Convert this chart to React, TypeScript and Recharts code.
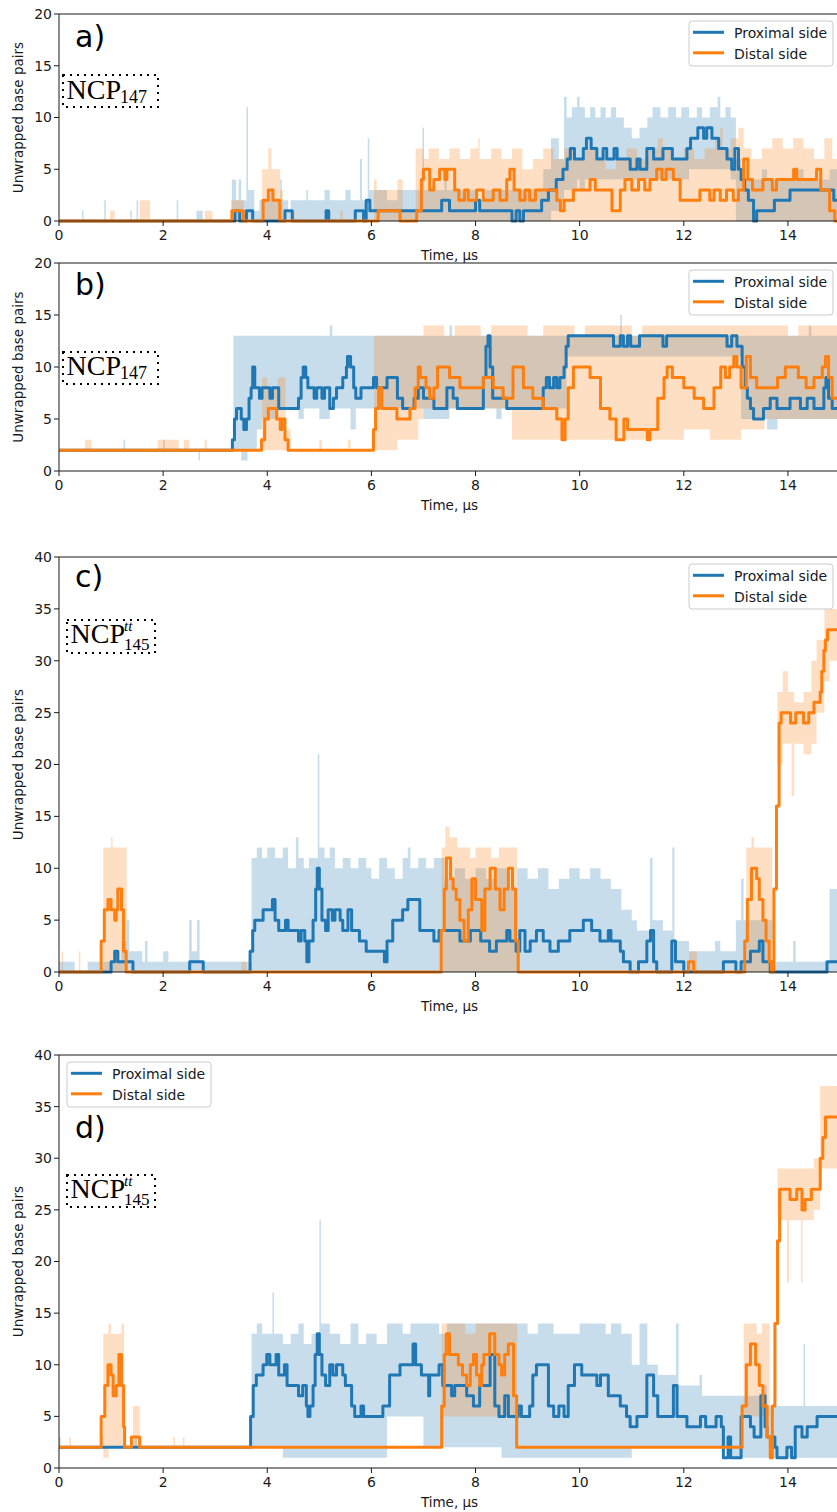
import React from 'react';
import { ComposedChart, Line, Area, XAxis, YAxis, ReferenceLine } from 'recharts';

type Pt = [number, number];
type Band = [number, number, number];

const BLUE = '#1f77b4';
const ORANGE = '#ff7f0e';
const INK = '#1a1a1a';

const xTicks = [0, 2, 4, 6, 8, 10, 12, 14];
const yTicks20 = [0, 5, 10, 15, 20];
const yTicks40 = [0, 5, 10, 15, 20, 25, 30, 35, 40];
const seriesNames = ['Proximal side', 'Distal side'];

// ---- panel a ----
const aProximal: Pt[] = [
  [0, 0], [3.38, 1], [3.47, 0], [3.6, 1], [3.72, 0], [4.34, 1], [4.48, 0], [5.13, 1], [5.18, 0],
  [5.69, 1], [5.85, 0], [5.9, 2], [5.97, 1], [7.35, 2], [7.5, 1], [8.0, 2], [8.08, 1], [8.7, 0],
  [8.78, 1], [8.85, 0], [8.92, 1], [9.27, 2], [9.4, 3], [9.55, 4], [9.68, 5], [9.76, 6], [9.82, 7],
  [9.9, 6], [10.07, 7], [10.13, 8], [10.22, 7], [10.33, 6], [10.45, 7], [10.52, 6], [10.66, 7],
  [10.72, 6], [10.97, 5], [11.1, 6], [11.16, 5], [11.29, 7], [11.42, 6], [11.6, 7], [11.78, 6],
  [12.06, 7], [12.13, 8], [12.27, 9], [12.38, 8], [12.44, 9], [12.54, 8], [12.67, 7], [12.83, 6],
  [12.92, 5], [12.98, 7], [13.05, 5], [13.1, 4], [13.17, 3], [13.24, 2], [13.34, 0], [13.4, 1],
  [13.74, 2], [14.04, 3], [14.88, 2],
];
const aDistal: Pt[] = [
  [0, 0], [3.32, 1], [3.54, 0], [3.92, 2], [4.02, 3], [4.11, 2], [4.24, 0], [6.13, 1], [6.55, 0],
  [6.87, 1], [6.96, 4], [7.0, 5], [7.12, 3], [7.2, 4], [7.31, 5], [7.41, 4], [7.45, 5], [7.6, 3],
  [7.68, 2], [7.79, 3], [7.86, 2], [8.02, 3], [8.15, 2], [8.34, 3], [8.47, 2], [8.6, 4], [8.66, 5],
  [8.74, 3], [8.85, 2], [8.95, 3], [9.04, 2], [9.15, 3], [9.56, 2], [9.63, 1], [9.7, 2], [9.88, 3],
  [10.2, 4], [10.3, 3], [10.62, 1], [10.78, 3], [10.87, 4], [11.0, 3], [11.13, 4], [11.25, 3],
  [11.35, 4], [11.48, 5], [11.58, 4], [11.66, 5], [11.8, 4], [11.93, 2], [12.31, 3], [12.5, 2],
  [12.58, 3], [12.7, 2], [12.82, 3], [12.95, 2], [13.05, 3], [13.15, 6], [13.23, 4], [13.32, 3],
  [13.52, 4], [13.7, 3], [13.78, 4], [14.11, 5], [14.17, 4], [14.55, 5], [14.63, 3], [14.8, 1],
  [14.9, 0],
];
const aProximalBand: Band[] = [
  [0, 0, 0], [0.44, 0, 1], [0.47, 0, 0], [0.87, 0, 2], [0.9, 0, 0], [1.37, 0, 1], [1.4, 0, 0],
  [1.49, 0, 2], [1.52, 0, 0], [2.26, 0, 2], [2.29, 0, 0], [2.64, 0, 1], [2.76, 0, 0], [3.32, 0, 4],
  [3.4, 0, 2], [3.45, 0, 4], [3.5, 0, 2], [3.6, 0, 11], [3.63, 0, 3], [3.75, 0, 1], [3.85, 0, 2],
  [4.05, 0, 3], [4.1, 0, 2], [4.25, 0, 4], [4.28, 0, 2], [4.4, 0, 1], [4.45, 0, 2], [4.75, 0, 3],
  [4.78, 0, 2], [5.1, 0, 3], [5.2, 0, 2], [5.5, 0, 3], [5.6, 0, 2], [5.78, 0, 6], [5.82, 0, 2],
  [5.93, 0, 8], [5.96, 0, 3], [6.3, 0, 2], [6.5, 0, 3], [6.98, 0, 9], [7.01, 0, 3], [7.4, 0, 4],
  [7.45, 0, 3], [8.0, 0, 2], [8.2, 0, 3], [9.3, 0, 5], [9.45, 1, 8], [9.6, 2, 6], [9.7, 3, 12],
  [9.75, 3, 10], [9.85, 3, 11], [9.95, 4, 12], [10.0, 3, 11], [10.1, 4, 10], [10.2, 4, 11],
  [10.3, 4, 10], [10.4, 4, 11], [10.5, 4, 10], [10.6, 4, 11], [10.7, 4, 10], [10.85, 4, 9],
  [11.0, 4, 8], [11.15, 4, 9], [11.3, 4, 10], [11.4, 4, 11], [11.55, 4, 10], [11.7, 4, 11],
  [11.85, 4, 10], [11.95, 4, 11], [12.1, 5, 10], [12.25, 5, 11], [12.35, 5, 10], [12.5, 5, 11],
  [12.65, 5, 12], [12.7, 5, 10], [12.8, 5, 11], [12.9, 4, 10], [13.0, 0, 6], [13.1, 0, 4],
  [13.5, 0, 5], [13.6, 0, 4], [14.2, 0, 5], [14.3, 0, 4], [14.8, 0, 5],
];
const aDistalBand: Band[] = [
  [0, 0, 0], [0.98, 0, 1], [1.07, 0, 0], [1.55, 0, 2], [1.75, 0, 0], [2.8, 0, 1], [2.95, 0, 0],
  [3.3, 0, 2], [3.55, 0, 0], [3.9, 0, 5], [4.02, 0, 7], [4.08, 0, 5], [4.25, 0, 3], [4.3, 0, 0],
  [4.5, 0, 1], [4.53, 0, 0], [5.4, 0, 1], [5.45, 0, 0], [6.05, 0, 4], [6.1, 0, 3], [6.5, 0, 4],
  [6.6, 0, 1], [6.85, 0, 7], [7.0, 0, 6], [7.1, 0, 7], [7.3, 0, 6], [7.5, 0, 7], [7.7, 0, 6],
  [7.9, 0, 7], [8.05, 0, 8], [8.08, 0, 6], [8.3, 0, 7], [8.5, 0, 6], [8.7, 0, 7], [8.9, 0, 5],
  [9.1, 0, 6], [9.3, 0, 7], [9.5, 0, 6], [9.7, 0, 7], [9.9, 0, 6], [10.1, 0, 7], [10.3, 0, 6],
  [10.5, 0, 5], [10.7, 0, 6], [10.9, 0, 7], [11.1, 0, 6], [11.3, 0, 7], [11.5, 0, 8], [11.6, 0, 7],
  [11.8, 0, 6], [12.0, 0, 7], [12.2, 0, 6], [12.4, 0, 7], [12.6, 0, 8], [12.7, 0, 9], [12.75, 0, 7],
  [12.9, 0, 8], [13.05, 0, 9], [13.15, 0, 7], [13.3, 0, 6], [13.5, 0, 7], [13.7, 0, 8], [13.9, 0, 7],
  [14.1, 0, 8], [14.3, 0, 7], [14.5, 0, 6], [14.7, 0, 8], [14.85, 0, 6],
];

// ---- panel b ----
const bProximal: Pt[] = [
  [0, 2], [3.33, 3], [3.37, 5], [3.41, 6], [3.5, 5], [3.55, 4], [3.6, 5], [3.65, 7], [3.69, 8],
  [3.72, 10], [3.76, 8], [3.85, 7], [3.9, 8], [4.05, 7], [4.1, 8], [4.22, 6], [4.6, 7], [4.65, 9],
  [4.69, 10], [4.74, 9], [4.78, 8], [4.9, 7], [4.95, 8], [5.05, 7], [5.1, 8], [5.2, 6], [5.27, 7],
  [5.33, 8], [5.45, 9], [5.52, 10], [5.54, 11], [5.6, 10], [5.66, 8], [5.7, 7], [5.8, 8], [6.04, 9],
  [6.1, 8], [6.3, 9], [6.5, 7], [6.6, 6], [6.82, 7], [6.9, 8], [7.0, 7], [7.2, 6], [7.45, 8],
  [7.57, 7], [7.65, 6], [8.15, 9], [8.2, 12], [8.24, 13], [8.28, 10], [8.33, 7], [8.6, 6], [9.3, 8],
  [9.36, 9], [9.42, 8], [9.5, 9], [9.56, 8], [9.62, 9], [9.7, 10], [9.74, 12], [9.78, 13],
  [10.65, 12], [10.78, 13], [10.84, 12], [10.92, 13], [10.98, 12], [11.15, 13], [11.6, 12],
  [11.67, 13], [12.83, 12], [12.92, 13], [13.02, 12], [13.12, 10], [13.18, 8], [13.22, 7],
  [13.28, 6], [13.34, 5], [13.53, 6], [13.66, 7], [13.79, 6], [14.04, 7], [14.24, 6], [14.37, 7],
  [14.5, 6], [14.69, 8], [14.73, 9], [14.78, 7], [14.85, 6],
];
const bDistal: Pt[] = [
  [0, 2], [3.89, 3], [3.95, 5], [4.02, 6], [4.18, 5], [4.25, 4], [4.28, 5], [4.34, 3], [4.4, 2],
  [6.04, 4], [6.08, 6], [6.14, 8], [6.2, 6], [6.49, 5], [6.74, 6], [6.84, 8], [6.9, 10], [6.94, 9],
  [7.05, 8], [7.12, 7], [7.2, 8], [7.27, 10], [7.5, 9], [7.7, 8], [8.15, 9], [8.34, 8], [8.53, 7],
  [8.72, 10], [8.92, 8], [9.1, 7], [9.3, 6], [9.56, 5], [9.66, 3], [9.72, 5], [9.78, 8], [9.88, 10],
  [10.2, 9], [10.4, 6], [10.58, 5], [10.7, 3], [10.85, 5], [10.92, 4], [11.3, 3], [11.35, 4],
  [11.5, 7], [11.62, 9], [11.68, 10], [11.78, 9], [12.0, 8], [12.2, 7], [12.38, 6], [12.58, 8],
  [12.71, 10], [12.8, 9], [12.88, 10], [12.96, 11], [13.02, 10], [13.1, 8], [13.2, 11], [13.28, 9],
  [13.4, 8], [13.8, 9], [13.95, 10], [14.2, 9], [14.35, 8], [14.5, 9], [14.66, 10], [14.72, 11],
  [14.78, 9], [14.85, 7],
];
const bProximalBand: Band[] = [
  [0, 2, 2], [1.24, 2, 3], [1.27, 2, 2], [2.0, 2, 3], [2.03, 2, 2], [2.68, 1, 2], [2.71, 2, 2],
  [3.35, 2, 13], [3.5, 1, 13], [3.62, 2, 13], [3.8, 4, 13], [3.9, 5, 13], [4.2, 6, 13], [4.6, 5, 13],
  [4.7, 6, 13], [5.0, 5, 13], [5.2, 6, 14], [5.25, 6, 13], [5.6, 4, 13], [5.7, 6, 13], [7.0, 5, 13],
  [7.5, 6, 14], [7.55, 6, 13], [8.4, 5, 13], [8.5, 6, 13], [9.75, 11, 13], [10.78, 11, 15],
  [10.81, 11, 13], [13.1, 5, 13], [13.6, 4, 13], [13.8, 5, 13], [14.4, 5, 14], [14.45, 5, 13],
];
const bDistalBand: Band[] = [
  [0, 2, 2], [0.5, 2, 3], [0.62, 2, 2], [1.9, 2, 3], [2.3, 2, 2], [2.4, 2, 3], [2.5, 2, 2],
  [2.8, 2, 3], [2.84, 2, 2], [3.9, 2, 9], [4.0, 2, 8], [4.2, 2, 9], [4.35, 2, 4], [4.45, 2, 2],
  [5.0, 2, 3], [5.05, 2, 2], [5.55, 2, 3], [5.6, 2, 2], [6.05, 2, 13], [6.5, 3, 13], [6.9, 5, 13],
  [7.0, 6, 14], [7.4, 6, 13], [7.6, 6, 14], [8.1, 6, 13], [8.3, 6, 14], [8.7, 3, 14], [9.0, 3, 13],
  [9.3, 3, 14], [9.9, 3, 13], [10.1, 3, 14], [11.0, 3, 13], [11.2, 3, 14], [12.0, 4, 14],
  [12.5, 3, 14], [13.1, 4, 14], [13.55, 5, 14], [14.0, 5, 13], [14.2, 5, 14],
];

// ---- panel c ----
const cProximal: Pt[] = [
  [0, 0], [1.0, 1], [1.07, 2], [1.13, 1], [1.42, 0], [2.51, 1], [2.77, 0], [3.67, 2], [3.72, 4],
  [3.76, 5], [3.92, 6], [4.1, 7], [4.15, 5], [4.22, 4], [4.35, 5], [4.4, 4], [4.6, 3], [4.65, 4],
  [4.72, 3], [4.76, 1], [4.8, 3], [4.88, 5], [4.93, 8], [4.96, 10], [5.0, 8], [5.05, 5], [5.12, 4],
  [5.17, 6], [5.25, 5], [5.3, 6], [5.4, 5], [5.45, 4], [5.55, 6], [5.62, 4], [5.77, 3], [5.9, 2],
  [6.25, 1], [6.3, 3], [6.41, 5], [6.6, 6], [6.7, 7], [6.93, 4], [7.2, 3], [7.3, 4], [7.7, 3],
  [7.9, 4], [8.1, 3], [8.27, 2], [8.4, 3], [8.6, 4], [8.66, 3], [8.78, 2], [8.85, 4], [8.95, 2],
  [9.05, 3], [9.17, 4], [9.3, 3], [9.43, 2], [9.59, 3], [9.81, 4], [10.07, 5], [10.23, 4],
  [10.39, 3], [10.55, 4], [10.6, 3], [10.78, 2], [10.84, 1], [10.97, 0], [11.13, 1], [11.29, 3],
  [11.36, 4], [11.42, 1], [11.48, 0], [11.77, 3], [11.84, 1], [12.0, 0], [12.76, 1], [13.0, 0],
  [13.1, 1], [13.28, 2], [13.45, 3], [13.52, 1], [13.66, 0], [14.75, 1],
];
const cDistal: Pt[] = [
  [0, 0], [0.81, 3], [0.87, 6], [0.94, 7], [1.0, 6], [1.07, 5], [1.1, 6], [1.13, 8], [1.2, 6],
  [1.24, 2], [1.29, 0], [7.34, 4], [7.4, 8], [7.44, 11], [7.52, 9], [7.57, 8], [7.63, 7], [7.7, 5],
  [7.78, 3], [7.86, 6], [7.93, 9], [8.0, 7], [8.12, 4], [8.18, 8], [8.28, 10], [8.38, 8], [8.47, 6],
  [8.55, 8], [8.63, 10], [8.71, 8], [8.77, 3], [8.82, 0], [12.09, 1], [12.19, 0], [13.17, 3],
  [13.22, 7], [13.3, 10], [13.4, 9], [13.45, 7], [13.52, 5], [13.58, 3], [13.64, 1], [13.68, 0],
  [13.73, 8], [13.78, 16], [13.83, 24], [13.87, 25], [14.05, 24], [14.15, 25], [14.3, 24],
  [14.4, 25], [14.5, 26], [14.62, 27], [14.65, 29], [14.69, 31], [14.72, 32], [14.76, 33],
];
const cProximalBand: Band[] = [
  [0, 0, 1], [0.3, 0, 0], [0.55, 0, 1], [1.2, 0, 3], [1.3, 0, 5], [1.35, 0, 2], [1.6, 0, 1],
  [1.65, 0, 3], [1.7, 0, 1], [2.0, 0, 2], [2.1, 0, 1], [2.5, 0, 5], [2.55, 0, 2], [2.65, 0, 5],
  [2.7, 0, 1], [3.7, 0, 11], [3.8, 0, 12], [3.9, 0, 11], [4.0, 0, 12], [4.15, 0, 11], [4.3, 0, 12],
  [4.4, 0, 10], [4.55, 0, 13], [4.6, 0, 11], [4.7, 0, 10], [4.8, 0, 11], [4.97, 0, 21], [5.0, 0, 12],
  [5.1, 0, 11], [5.2, 0, 12], [5.3, 0, 10], [5.45, 0, 11], [5.6, 0, 10], [5.75, 0, 11], [5.9, 0, 10],
  [6.0, 0, 9], [6.15, 0, 11], [6.3, 0, 10], [6.45, 0, 9], [6.6, 0, 11], [6.7, 0, 12], [6.75, 0, 10],
  [6.9, 0, 11], [7.05, 0, 10], [7.2, 0, 11], [7.4, 0, 9], [7.6, 0, 10], [7.8, 0, 9], [8.0, 0, 10],
  [8.2, 0, 9], [8.4, 0, 10], [8.6, 0, 8], [8.8, 0, 10], [9.0, 0, 9], [9.2, 0, 10], [9.4, 0, 8],
  [9.6, 0, 9], [9.8, 0, 10], [10.0, 0, 9], [10.2, 0, 10], [10.4, 0, 9], [10.6, 0, 8], [10.8, 0, 6],
  [11.0, 0, 5], [11.1, 0, 4], [11.35, 0, 11], [11.4, 0, 5], [11.6, 0, 4], [11.78, 0, 12],
  [11.82, 0, 3], [12.1, 0, 2], [12.6, 0, 3], [12.7, 0, 2], [13.0, 0, 5], [13.1, 0, 9], [13.15, 0, 5],
  [13.7, 0, 1], [14.1, 0, 3], [14.15, 0, 1], [14.8, 0, 8],
];
const cDistalBand: Band[] = [
  [0, 0, 0], [0.05, 0, 2], [0.08, 0, 0], [0.38, 0, 2], [0.41, 0, 0], [0.85, 0, 12], [1.0, 0, 13],
  [1.03, 0, 12], [1.3, 0, 0], [3.5, 0, 1], [3.6, 0, 0], [7.35, 0, 12], [7.42, 0, 14], [7.5, 0, 13],
  [7.65, 0, 12], [7.9, 0, 11], [8.0, 0, 12], [8.3, 0, 11], [8.45, 0, 12], [8.8, 0, 0], [12.1, 0, 2],
  [12.25, 0, 0], [13.2, 0, 12], [13.3, 0, 13], [13.35, 0, 12], [13.7, 0, 0], [13.8, 20, 27],
  [13.9, 22, 29], [14.0, 22, 27], [14.07, 17, 27], [14.12, 22, 26], [14.3, 21, 27], [14.45, 22, 30],
  [14.55, 25, 32], [14.7, 28, 35], [14.8, 30, 35],
];

// ---- panel d ----
const dProximal: Pt[] = [
  [0, 2], [3.68, 5], [3.73, 8], [3.79, 9], [3.92, 10], [3.99, 11], [4.05, 10], [4.17, 11],
  [4.22, 9], [4.33, 10], [4.38, 8], [4.6, 7], [4.68, 8], [4.75, 6], [4.78, 5], [4.82, 6], [4.88, 8],
  [4.92, 11], [4.96, 13], [5.0, 11], [5.05, 9], [5.12, 8], [5.2, 10], [5.26, 9], [5.33, 10],
  [5.45, 9], [5.5, 8], [5.62, 6], [5.68, 5], [5.8, 6], [5.85, 5], [6.22, 6], [6.35, 9], [6.55, 10],
  [6.8, 12], [6.85, 10], [6.96, 9], [7.1, 7], [7.12, 9], [7.3, 10], [7.37, 8], [7.54, 7], [7.6, 8],
  [7.83, 7], [7.96, 6], [8.08, 8], [8.28, 11], [8.37, 6], [8.45, 5], [8.56, 7], [8.63, 5],
  [8.82, 6], [8.88, 5], [9.04, 6], [9.1, 9], [9.17, 10], [9.4, 6], [9.5, 5], [9.6, 6], [9.7, 5],
  [9.78, 8], [9.9, 10], [10.04, 9], [10.33, 8], [10.4, 9], [10.55, 7], [10.78, 6], [10.9, 5],
  [10.97, 4], [11.1, 5], [11.29, 9], [11.42, 7], [11.5, 5], [11.8, 8], [11.87, 5], [12.06, 4],
  [12.32, 5], [12.42, 4], [12.62, 5], [12.72, 4], [12.76, 1], [12.85, 3], [12.9, 1], [13.1, 5],
  [13.28, 4], [13.35, 3], [13.48, 7], [13.56, 4], [13.6, 3], [13.75, 2], [13.79, 1], [13.98, 2],
  [14.07, 1], [14.14, 4], [14.27, 3], [14.37, 4], [14.56, 5],
];
const dDistal: Pt[] = [
  [0, 2], [0.81, 5], [0.88, 8], [0.94, 10], [1.0, 9], [1.04, 7], [1.1, 8], [1.15, 11], [1.2, 8],
  [1.24, 4], [1.26, 2], [1.39, 3], [1.55, 2], [7.35, 6], [7.4, 11], [7.44, 13], [7.5, 11],
  [7.67, 10], [7.75, 9], [7.83, 8], [7.9, 10], [7.96, 11], [8.02, 9], [8.08, 8], [8.12, 10],
  [8.16, 11], [8.27, 13], [8.37, 11], [8.45, 10], [8.5, 9], [8.56, 11], [8.63, 12], [8.73, 7],
  [8.79, 2], [13.12, 6], [13.2, 10], [13.28, 12], [13.38, 10], [13.45, 8], [13.52, 6], [13.6, 3],
  [13.66, 1], [13.7, 6], [13.75, 14], [13.8, 22], [13.84, 27], [14.04, 26], [14.17, 27],
  [14.27, 25], [14.33, 26], [14.45, 27], [14.62, 30], [14.67, 32], [14.72, 34],
];
const dProximalBand: Band[] = [
  [0, 2, 3], [0.03, 2, 2], [0.8, 2, 3], [0.85, 2, 2], [1.45, 2, 3], [1.5, 2, 2], [3.7, 2, 13],
  [3.8, 2, 14], [3.9, 2, 13], [4.1, 2, 17], [4.13, 2, 13], [4.3, 1, 12], [4.45, 1, 13], [4.6, 1, 14],
  [4.7, 1, 12], [4.85, 1, 13], [5.0, 1, 24], [5.03, 1, 14], [5.2, 1, 13], [5.4, 1, 12], [5.6, 1, 14],
  [5.75, 1, 12], [5.9, 1, 13], [6.1, 1, 12], [6.3, 5, 14], [6.6, 5, 13], [6.75, 5, 14], [7.0, 2, 14],
  [7.3, 2, 13], [7.45, 2, 14], [8.5, 1, 14], [9.0, 1, 13], [9.2, 1, 14], [9.5, 1, 13], [10.0, 1, 14],
  [10.5, 1, 13], [10.6, 1, 14], [10.8, 1, 13], [11.0, 2, 10], [11.15, 2, 14], [11.3, 2, 10],
  [11.5, 2, 9], [11.85, 2, 14], [11.9, 2, 8], [12.3, 2, 9], [12.35, 2, 7], [12.9, 1, 7],
  [13.5, 1, 8], [13.6, 1, 6], [13.9, 1, 6], [14.3, 1, 12], [14.33, 1, 6],
];
const dDistalBand: Band[] = [
  [0, 2, 2], [0.2, 2, 3], [0.23, 2, 2], [0.85, 1, 13], [0.95, 2, 14], [1.0, 2, 13], [1.2, 2, 14],
  [1.25, 2, 2], [1.42, 2, 6], [1.55, 2, 2], [2.2, 2, 3], [2.23, 2, 2], [2.38, 2, 3], [2.41, 2, 2],
  [7.35, 5, 14], [7.8, 5, 13], [8.0, 5, 14], [8.8, 2, 2], [13.15, 5, 14], [13.4, 5, 13],
  [13.5, 5, 14], [13.65, 2, 2], [13.8, 24, 29], [13.98, 18, 29], [14.02, 24, 29], [14.25, 18, 29],
  [14.28, 24, 29], [14.5, 25, 30], [14.62, 29, 37],
];

const T_END = 15;
const CHART_W = 860;
const PLOT_LEFT = 59;
const PLOT_RIGHT = 840;
const M_TOP = 10;
const M_BOTTOM = 8;
const X_AXIS_H = 39;

const toLine = (pts: Pt[]) => {
  const rows = pts.map(([t, v]) => ({ t, v }));
  const last = pts[pts.length - 1];
  if (last[0] < T_END) rows.push({ t: T_END, v: last[1] });
  return rows;
};

const toBand = (pts: Band[]) => {
  const rows = pts.map(([t, lo, hi]) => ({ t, r: [lo, hi] }));
  const last = pts[pts.length - 1];
  if (last[0] < T_END) rows.push({ t: T_END, r: [last[1], last[2]] });
  return rows;
};

interface PanelProps {
  top: number;
  plotH: number;
  yMax: number;
  yTicks: number[];
  prox: Pt[];
  dist: Pt[];
  proxBand: Band[];
  distBand: Band[];
}

const Panel = ({ top, plotH, yMax, yTicks, prox, dist, proxBand, distBand }: PanelProps) => {
  const h = M_TOP + plotH + X_AXIS_H + M_BOTTOM;
  return (
    <div style={{ position: 'absolute', left: 0, top: top - M_TOP }}>
      <ComposedChart
        width={CHART_W}
        height={h}
        margin={{ top: M_TOP, right: CHART_W - PLOT_RIGHT, bottom: M_BOTTOM, left: 0 }}
      >
        <XAxis
          type="number"
          dataKey="t"
          domain={[0, T_END]}
          ticks={xTicks}
          height={X_AXIS_H}
          tickSize={5}
          tickMargin={4}
          axisLine={{ stroke: INK }}
          tickLine={{ stroke: INK }}
          tick={{ fill: INK, fontSize: 14 }}
          label={{ value: 'Time, µs', position: 'insideBottom', offset: 0, fill: INK, fontSize: 13.5 }}
        />
        <YAxis
          type="number"
          domain={[0, yMax]}
          ticks={yTicks}
          width={PLOT_LEFT}
          tickSize={5}
          tickMargin={2}
          axisLine={{ stroke: INK }}
          tickLine={{ stroke: INK }}
          tick={{ fill: INK, fontSize: 14 }}
          label={{
            value: 'Unwrapped base pairs',
            angle: -90,
            position: 'insideLeft',
            offset: 18,
            fill: INK,
            fontSize: 13.5,
            style: { textAnchor: 'middle' },
          }}
        />
        <ReferenceLine y={yMax} stroke={INK} />
        <Area
          data={toBand(proxBand)}
          dataKey="r"
          type="stepAfter"
          stroke="none"
          fill={BLUE}
          fillOpacity={0.25}
          isAnimationActive={false}
        />
        <Line
          data={toLine(prox)}
          dataKey="v"
          type="stepAfter"
          stroke={BLUE}
          strokeWidth={3}
          dot={false}
          strokeLinejoin="round"
          isAnimationActive={false}
        />
        <Area
          data={toBand(distBand)}
          dataKey="r"
          type="stepAfter"
          stroke="none"
          fill={ORANGE}
          fillOpacity={0.25}
          isAnimationActive={false}
        />
        <Line
          data={toLine(dist)}
          dataKey="v"
          type="stepAfter"
          stroke={ORANGE}
          strokeWidth={3}
          dot={false}
          strokeLinejoin="round"
          isAnimationActive={false}
        />
      </ComposedChart>
    </div>
  );
};

const LegendBox = ({ x, y }: { x: number; y: number }) => (
  <g>
    <rect x={x} y={y} width={144} height={45} rx={3} fill="#fff" fillOpacity={0.8} stroke="#cccccc" />
    {seriesNames.map((name, i) => (
      <g key={name}>
        <line
          x1={x + 4}
          x2={x + 35}
          y1={y + 11.3 + i * 20.5}
          y2={y + 11.3 + i * 20.5}
          stroke={i === 0 ? BLUE : ORANGE}
          strokeWidth={3}
        />
        <text x={x + 45} y={y + 17 + i * 20.5} fontSize={14} fill={INK}>
          {name}
        </text>
      </g>
    ))}
  </g>
);

const SERIF = "'Liberation Serif', 'DejaVu Serif', serif";

const NcpBox = ({ x, y, w, h, base, sub, sup }: { x: number; y: number; w: number; h: number; base: number; sub: string; sup?: string }) => (
  <g>
    <rect x={x} y={y} width={w} height={h} fill="none" stroke="#000" strokeWidth={2} strokeDasharray="2 5" />
    <text x={x + 3.5} y={base} fontFamily={SERIF} fontSize={28} fill="#000">
      NCP
    </text>
    {sup && (
      <text x={x + 57} y={base - 12} fontFamily={SERIF} fontSize={15} fontStyle="italic" fill="#000">
        {sup}
      </text>
    )}
    <text x={x + 57} y={base + (sup ? 7 : 4)} fontFamily={SERIF} fontSize={sup ? 17 : 18} fill="#000">
      {sub}
    </text>
  </g>
);

export default function App() {
  return (
    <div
      style={{
        position: 'absolute',
        left: 0,
        top: 0,
        width: 837,
        height: 1512,
        overflow: 'hidden',
        background: '#fff',
        fontFamily: "'DejaVu Sans', sans-serif",
      }}
    >
      <Panel top={14} plotH={207} yMax={20} yTicks={yTicks20} prox={aProximal} dist={aDistal} proxBand={aProximalBand} distBand={aDistalBand} />
      <Panel top={263} plotH={208} yMax={20} yTicks={yTicks20} prox={bProximal} dist={bDistal} proxBand={bProximalBand} distBand={bDistalBand} />
      <Panel top={557} plotH={415} yMax={40} yTicks={yTicks40} prox={cProximal} dist={cDistal} proxBand={cProximalBand} distBand={cDistalBand} />
      <Panel top={1055} plotH={413} yMax={40} yTicks={yTicks40} prox={dProximal} dist={dDistal} proxBand={dProximalBand} distBand={dDistalBand} />
      <svg
        width={837}
        height={1512}
        style={{ position: 'absolute', left: 0, top: 0, pointerEvents: 'none' }}
        fontFamily="'DejaVu Sans', sans-serif"
      >
        <text x={75} y={46.5} fontSize={30} fill="#000">a)</text>
        <text x={75} y={295} fontSize={30} fill="#000">b)</text>
        <text x={75} y={587.3} fontSize={30} fill="#000">c)</text>
        <text x={75} y={1138.3} fontSize={30} fill="#000">d)</text>
        <NcpBox x={63} y={75} w={95} h={32} base={99} sub="147" />
        <NcpBox x={63} y={352} w={95} h={32} base={375} sub="147" />
        <NcpBox x={67} y={620} w={88} h={33} base={643} sub="145" sup="tt" />
        <NcpBox x={67} y={1175} w={88} h={32} base={1198} sub="145" sup="tt" />
        <LegendBox x={689} y={21} />
        <LegendBox x={689} y={270} />
        <LegendBox x={689} y={564} />
        <LegendBox x={67} y={1062} />
      </svg>
    </div>
  );
}
